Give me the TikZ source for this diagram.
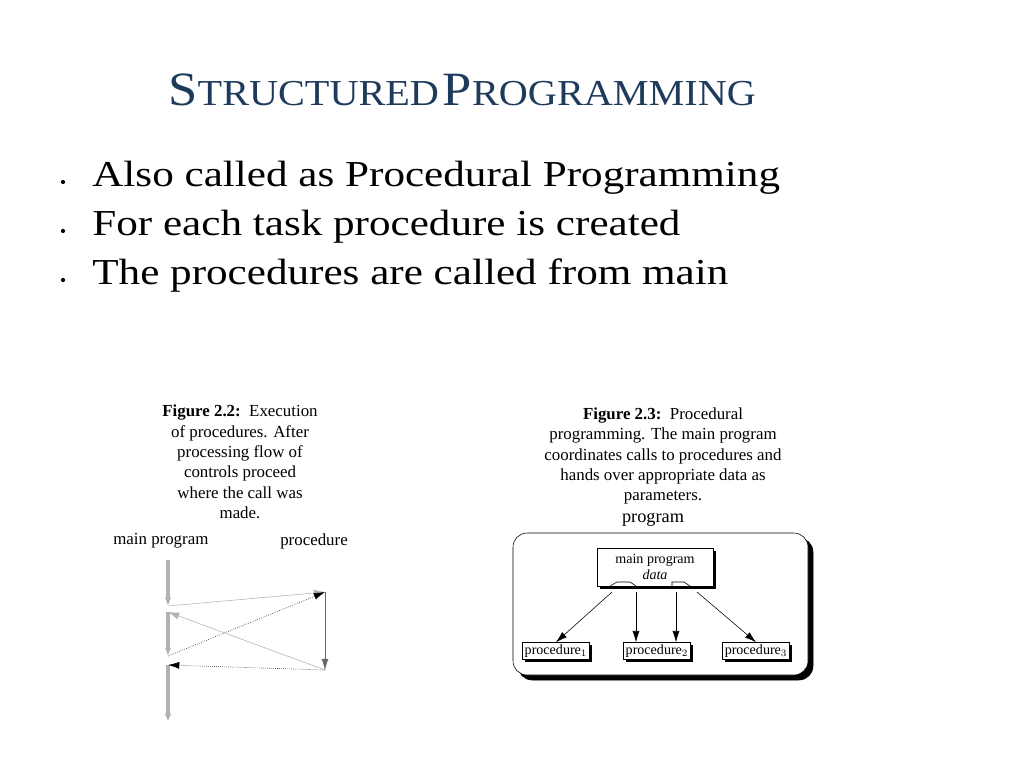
\documentclass[tikz,border=0pt]{standalone}
\usepackage{fontspec}
\setmainfont{Liberation Serif}
\usetikzlibrary{positioning,shadows,arrows.meta}
\definecolor{titleblue}{HTML}{1F3B5C}
\newcommand{\fakesc}[2]{{\fontsize{34}{38}\selectfont #1}{\fontsize{26}{30}\selectfont #2}}
\begin{document}
\begin{tikzpicture}[x=0.025cm,y=-0.025cm,
		bullet/.style={anchor=west, font=\fontsize{26}{30}\selectfont, inner sep=0pt, xscale=1.18},
		figcap/.style={align=center, font=\fontsize{12}{14.5}\selectfont, inner sep=0pt},
		pbox/.style={draw, fill=white, inner sep=1.5pt, font=\fontsize{10}{11}\selectfont, drop shadow={shadow xshift=2pt, shadow yshift=-2pt, opacity=1, fill=black}},
		tip/.style={-{Latex[length=8pt,width=5pt]}},
		mline/.style={line width=2.5pt, gray!60, -{Latex[length=6pt,width=5pt]}},
		call/.style={gray!60, tip},
		back/.style={densely dotted, tip}]
		    \useasboundingbox (0,0) rectangle (1024,768);
		    \node[text=titleblue, anchor=west, xscale=1.1] (title) at (163,90) {\fakesc{S}{TRUCTURED} \fakesc{P}{ROGRAMMING}};
		    \node[bullet] (b1) at (92,178) {Also called as Procedural Programming};
		    \node[bullet] (b2) at (92,227) {For each task procedure is created};
		    \node[bullet] (b3) at (92,276) {The procedures are called from main};
		    \foreach \y in {182,231,280} {\fill (63,\y) circle (1.5pt);}
		    % left figure
		    \node[figcap] (capl) at (240,462) {\textbf{Figure 2.2:}\ \ Execution\\of procedures. After\\processing flow of\\controls proceed\\where the call was\\made.};
		    \node[figcap, anchor=west] (lmain) at (113,541) {main program};
		    \node[figcap, anchor=west] (lproc) at (280,541) {procedure};
		    \coordinate (m0) at (168,560); \coordinate (m1) at (168,606);
		    \coordinate (m2) at (168,612); \coordinate (m3) at (168,656);
		    \coordinate (m4) at (168,665); \coordinate (m5) at (168,722);
		    \coordinate (p0) at (325,592); \coordinate (p1) at (325,670);
		    \draw[mline] (m0) -- (m1);
		    \draw[mline] (m2) -- (m3);
		    \draw[mline] (m4) -- (m5);
		    \draw[tip, gray!80!black] (p0) -- (p1);
		    \draw[call] (m1) -- (p0);
		    \draw[back] (m3) -- (p0);
		    \draw[call] (p1) -- (m2);
		    \draw[back] (p1) -- (m4);
		    % right figure
		    \node[figcap] (capr) at (663,456) {\textbf{Figure 2.3:}\ \ Procedural\\programming. The main program\\coordinates calls to procedures and\\hands over appropriate data as\\parameters.};
		    \node[figcap, font=\fontsize{13}{15}\selectfont] (prog) at (653,520) {program};
		    \draw[rounded corners=10pt, fill=black] (518,538) rectangle (813,680);
		    \draw[rounded corners=10pt, fill=white] (513,533) rectangle (808,675);
		    \node[pbox, minimum width=2.9cm, minimum height=0.95cm, align=center] (mainp) at (655,567) {main program\\\textit{data}};
		    \node[pbox] (pr1) at (556,651) {procedure$_1$};
		    \node[pbox] (pr2) at (657,651) {procedure$_2$};
		    \node[pbox] (pr3) at (756,651) {procedure$_3$};
		    \coordinate (d1) at (612,592); \coordinate (d2) at (636,592);
		    \coordinate (d3) at (676,592); \coordinate (d4) at (697,592);
		    \draw (610,586) -- (617,582) -- (630,582) -- (636,586);
		    \draw (672,586) -- (672,582) -- (684,582) -- (690,586);
		    \draw[tip] (d1) -- (pr1.north);
		    \draw[tip] (d2) -- (d2 |- pr2.north);
		    \draw[tip] (d3) -- (d3 |- pr2.north);
		    \draw[tip] (d4) -- (pr3.north);
		\end{tikzpicture}
\end{document}
